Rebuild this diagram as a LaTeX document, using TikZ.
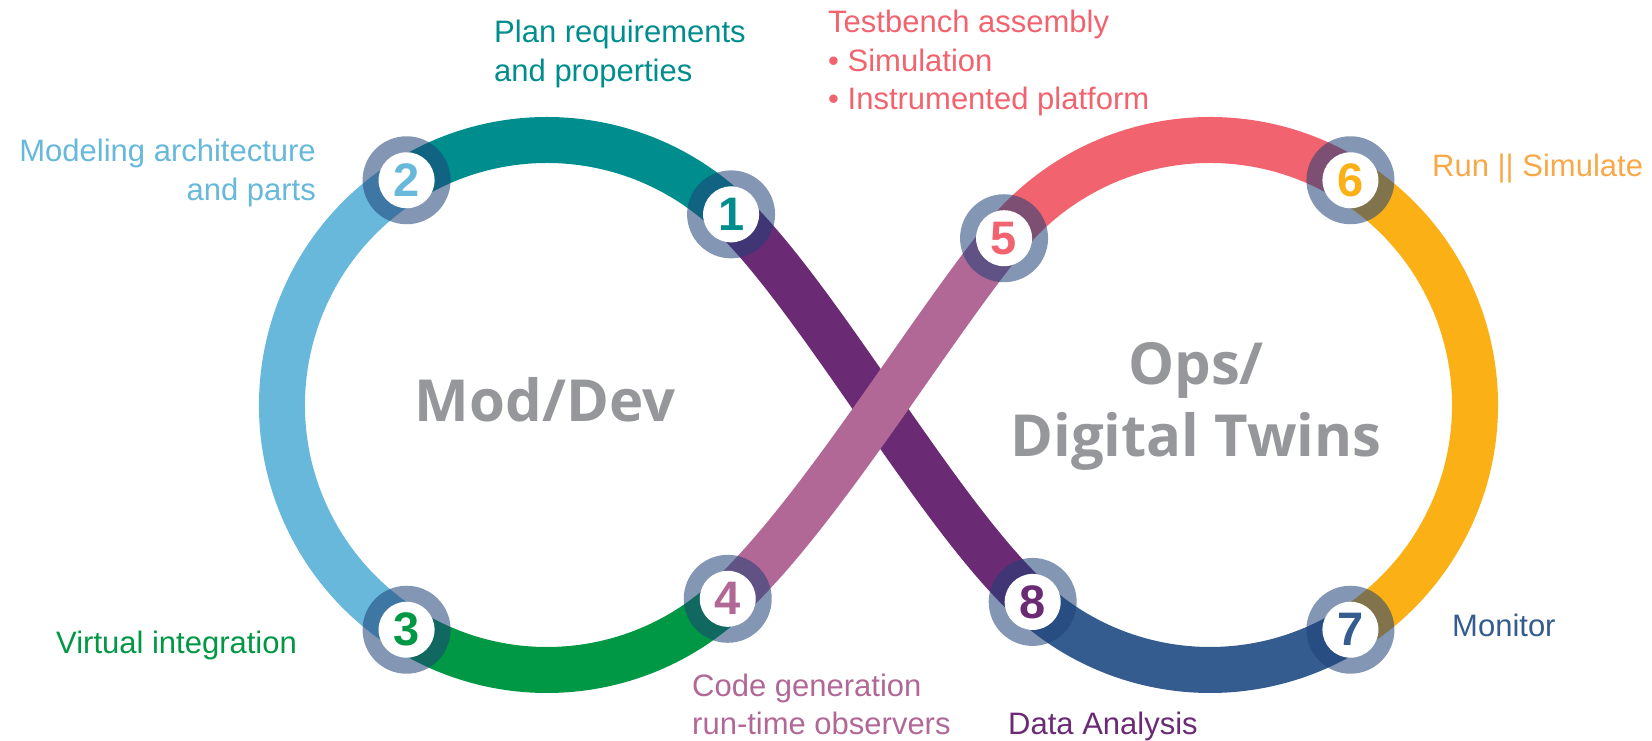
\documentclass[tikz,border=0pt]{standalone}
\usepackage{fontspec}
\setmainfont{Liberation Sans}
\newfontfamily\titlefont{Open Sans}
\usepackage{tikz}
\usetikzlibrary{positioning}

\definecolor{cTeal}{RGB}{0,141,141}
\definecolor{cSky}{RGB}{103,184,218}
\definecolor{cGreen}{RGB}{0,152,68}
\definecolor{cMauve}{RGB}{177,104,150}
\definecolor{cCoral}{RGB}{241,99,110}
\definecolor{cGold}{RGB}{251,177,22}
\definecolor{cOrange}{RGB}{249,168,72}
\definecolor{cNavy}{RGB}{53,92,143}
\definecolor{cPlum}{RGB}{106,42,116}
\definecolor{ringblue}{RGB}{30,65,120}
\definecolor{titlegray}{RGB}{150,151,155}

\tikzset{
  band/.style={line width=46pt},
  ring/.style={circle, fill=ringblue, fill opacity=0.55, minimum size=88pt, inner sep=0pt},
  dot/.style={circle, fill=white, minimum size=56pt, inner sep=0pt, font=\fontsize{47}{47}\selectfont\bfseries},
  lbl/.style={inner sep=0pt, align=left, font=\fontsize{31}{39}\selectfont},
  title/.style={text=titlegray, align=center, inner sep=0pt, font=\titlefont\bfseries\fontsize{58}{72}\selectfont}
}

\begin{document}
\begin{tikzpicture}[x=1pt, y=1pt]
  \useasboundingbox (0,0) rectangle (1652,741);
  \coordinate (L) at (547,336);
  \coordinate (R) at (1210,336);

  \foreach \name/\ctr/\ang in {s1/L/46, s2/L/122, s3/L/238, s4/L/-47,
                               s5/R/141, s6/R/58, s7/R/-58, s8/R/228}
    \coordinate (\name) at ([shift={(\ang:265)}]\ctr);

  \draw[band, cTeal] (s1) arc[start angle=46, end angle=122, radius=265pt];
  \draw[band, cSky] (s2) arc[start angle=122, end angle=238, radius=265pt];
  \draw[band, cGreen] (s3) arc[start angle=238, end angle=313, radius=265pt];
  \draw[band, cCoral] (s5) arc[start angle=141, end angle=58, radius=265pt];
  \draw[band, cGold] (s6) arc[start angle=58, end angle=-58, radius=265pt];
  \draw[band, cNavy] (s7) arc[start angle=-58, end angle=-132, radius=265pt];
  \draw[band, cPlum] (s1) .. controls +(-44:125) and +(138:125) .. (s8);
  \draw[band, cMauve] (s4) .. controls +(43:125) and +(231:125) .. (s5);

  \foreach \s/\c/\n in {s1/cTeal/1, s2/cSky/2, s3/cGreen/3, s4/cMauve/4,
                        s5/cCoral/5, s6/cGold/6, s7/cNavy/7, s8/cPlum/8} {
    \node[ring] (r\n) at (\s) {};
    \node[dot, text=\c] (n\n) at (\s) {\n};
  }

  \node[lbl, text=cTeal, anchor=base west] (plan) at (494,659) {Plan requirements\\and properties};
  \node[lbl, text=cSky, anchor=base east, align=right] (model) at (316,540) {Modeling architecture\\and parts};
  \node[lbl, text=cGreen, anchor=base west] (virt) at (56,87) {Virtual integration};
  \node[lbl, text=cMauve, anchor=base west, font=\fontsize{31}{38}\selectfont] (code) at (692,6) {Code generation\\run-time observers};
  \node[lbl, text=cCoral, anchor=base west, font=\fontsize{31}{38.5}\selectfont] (bench) at (828,631) {Testbench assembly\\• Simulation\\• Instrumented platform};
  \node[lbl, text=cOrange, anchor=base west] (run) at (1432,564) {Run || Simulate};
  \node[lbl, text=cNavy, anchor=base west] (mon) at (1452,104) {Monitor};
  \node[lbl, text=cPlum, anchor=base west] (data) at (1008,6) {Data Analysis};

  \node[title, anchor=base] (dev) at (545,319) {Mod/Dev};
  \node[title, anchor=base] (ops) at (1196,284) {Ops/\\Digital Twins};
\end{tikzpicture}
\end{document}
